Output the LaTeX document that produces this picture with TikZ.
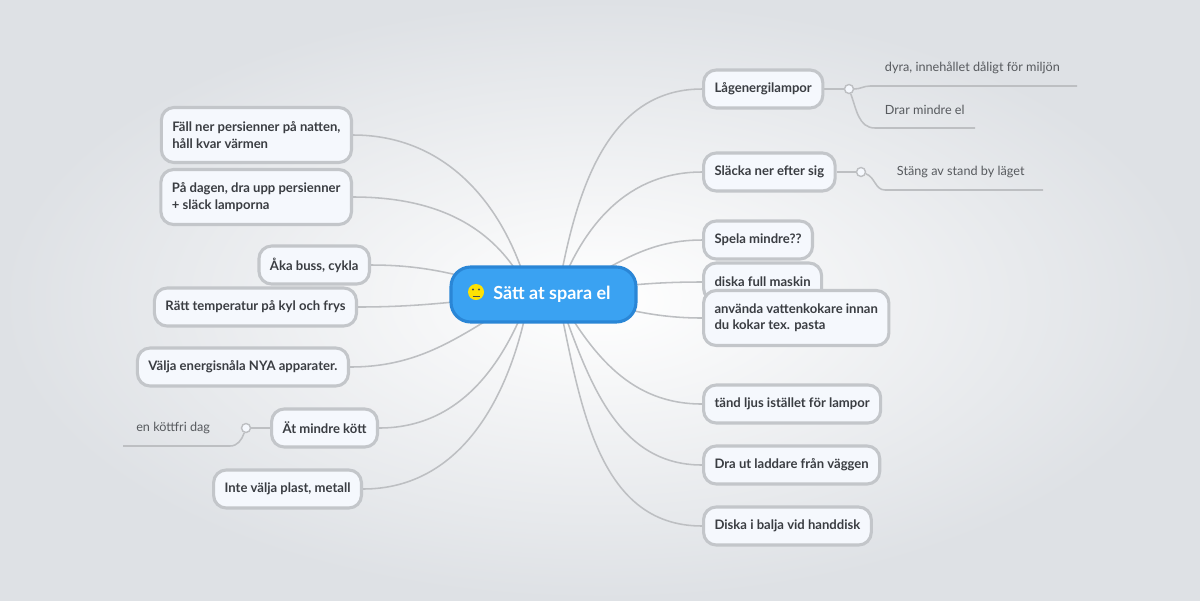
\documentclass[tikz,border=0pt]{standalone}
\usepackage{fontspec}
\setmainfont{Lato}
\usetikzlibrary{backgrounds}
\definecolor{bord}{HTML}{C3C6CA}
\definecolor{nfill}{HTML}{F5F8FD}
\definecolor{txt}{HTML}{3A3D42}
\definecolor{cblue}{HTML}{3AA2F2}
\definecolor{cbord}{HTML}{2A86D6}
\definecolor{lin}{HTML}{BDBFC2}
\definecolor{bgout}{HTML}{DEE1E5}
\tikzset{
 x=0.025cm,y=-0.025cm,
 item/.style={draw=bord,line width=2.2pt,fill=nfill,rounded corners=9pt,minimum height=38*0.025cm,inner xsep=11*0.025cm,inner ysep=4pt,font=\fontsize{9.3}{11.5}\selectfont\bfseries,text=txt,align=left},
 two/.style={minimum height=55*0.025cm},
 conn/.style={draw=lin,line width=1.1pt},
 sub/.style={font=\fontsize{9}{11}\selectfont,text=txt!85,anchor=west},
 knob/.style={circle,draw=lin,line width=1pt,fill=nfill,minimum size=9*0.025cm,inner sep=0pt}
}
\begin{document}
\begin{tikzpicture}
\begin{pgfonlayer}{background}
\shade[inner color=white,outer color=bgout] (0,0) rectangle (1200,600);
\end{pgfonlayer}
\useasboundingbox (0,0) rectangle (1200,600);
\node[draw=cbord,line width=2.2pt,fill=cblue,rounded corners=14pt,minimum width=185*0.025cm,minimum height=55*0.025cm,font=\fontsize{12.8}{14}\selectfont\bfseries,text=white] (c) at (543.5,294.5) {\hspace{12pt}Sätt at spara el};
\fill[yellow!85!orange] (476,292) circle (8);
\fill[black!70] (473,289.5) circle (1.1) (479,289.5) circle (1.1);
\draw[black!70,line width=0.6pt] (472.5,296) -- (479.5,296);
% right
\node[item,anchor=west] (r1) at (702,89) {Lågenergilampor};
\node[item,anchor=west] (r2) at (702,172) {Släcka ner efter sig};
\node[item,anchor=west] (r3) at (702,240) {Spela mindre??};
\node[item,anchor=west] (r4) at (702,282) {diska full maskin};
\node[item,two,anchor=west] (r5) at (702,318) {använda vattenkokare innan\\du kokar tex. pasta};
\node[item,anchor=west] (r6) at (702,404) {tänd ljus istället för lampor};
\node[item,anchor=west] (r7) at (702,465) {Dra ut laddare från väggen};
\node[item,anchor=west] (r8) at (702,526) {Diska i balja vid handdisk};
% left
\node[item,two,anchor=east] (l1) at (353,135) {Fäll ner persienner på natten,\\håll kvar värmen};
\node[item,two,anchor=east] (l2) at (353,197) {På dagen, dra upp persienner\\+ släck lamporna};
\node[item,anchor=east] (l3) at (371,265) {Åka buss, cykla};
\node[item,anchor=east] (l4) at (358,307) {Rätt temperatur på kyl och frys};
\node[item,anchor=east] (l5) at (350,367) {Välja energisnåla NYA apparater.};
\node[item,anchor=east] (l6) at (379,428) {Ät mindre kött};
\node[item,anchor=east] (l7) at (363,489) {Inte välja plast, metall};
% subs
\node[knob] (k1) at (849,89) {};
\node[knob] (k2) at (861,172) {};
\node[knob] (k3) at (246,428) {};
\node[sub] (s1) at (880,68) {dyra, innehållet dåligt för miljön};
\node[sub] (s2) at (880,110) {Drar mindre el};
\node[sub] (s3) at (892,172) {Stäng av stand by läget};
\node[sub,anchor=east] (s4) at (215,428) {en köttfri dag};
\coordinate (e1) at (1077,86);
\coordinate (e2) at (975,128);
\coordinate (e3) at (1043,190);
\coordinate (e4) at (123,446);
\begin{pgfonlayer}{background}
\foreach \n/\o in {r1/80,r2/70,r3/25,r4/8,r5/-10,r6/-60,r7/-70,r8/-78}
  \draw[conn] ([xshift=10,yshift=0]c.center) to[out=\o,in=180] (\n.west);
\foreach \n/\o in {l1/105,l2/115,l3/165,l4/185,l5/-150,l6/-110,l7/-100}
  \draw[conn] ([xshift=-10]c.center) to[out=\o,in=0] (\n.east);
\draw[conn] (r1.east) -- (k1);
\draw[conn] (r2.east) -- (k2);
\draw[conn] (l6.west) -- (k3);
\draw[conn] (k1) to[out=0,in=180] (870,86) -- (e1);
\draw[conn] (k1) to[out=-70,in=180] (875,128) -- (e2);
\draw[conn] (k2) to[out=-20,in=180] (885,190) -- (e3);
\draw[conn] (k3) to[out=-110,in=0] (230,446) -- (e4);
\end{pgfonlayer}
\end{tikzpicture}
\end{document}
